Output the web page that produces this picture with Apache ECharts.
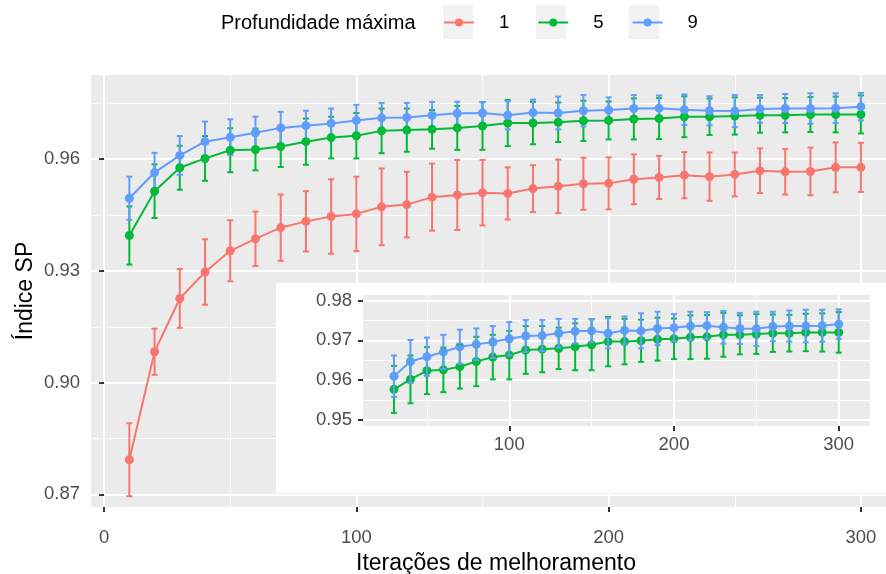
<!DOCTYPE html>
<html>
<head>
<meta charset="utf-8">
<title>Índice SP</title>
<script src="https://cdn.jsdelivr.net/npm/echarts@6/dist/echarts.min.js"></script>
<style>
html, body { margin: 0; padding: 0; background: #ffffff; }
#chart { width: 886px; height: 574px; }
</style>
</head>
<body>
<div id="chart"></div>
<script>
// iterações de melhoramento (eixo x)
const iteracoes = [10, 20, 30, 40, 50, 60, 70, 80, 90, 100,
                   110, 120, 130, 140, 150, 160, 170, 180, 190, 200,
                   210, 220, 230, 240, 250, 260, 270, 280, 290, 300];

// profundidade máxima = 1
const media1 = [0.8793, 0.9083, 0.9226, 0.9297, 0.9354, 0.9386, 0.9416, 0.9433, 0.9446, 0.9453,
                0.9472, 0.9478, 0.9498, 0.9504, 0.9510, 0.9508, 0.9521, 0.9527, 0.9534, 0.9535,
                0.9546, 0.9551, 0.9557, 0.9553, 0.9559, 0.9569, 0.9566, 0.9567, 0.9578, 0.9578];
const erro1 = [0.0098, 0.0062, 0.0079, 0.0088, 0.0082, 0.0073, 0.0089, 0.0081, 0.0100, 0.0100,
               0.0103, 0.0088, 0.0090, 0.0094, 0.0088, 0.0070, 0.0063, 0.0072, 0.0070, 0.0070,
               0.0067, 0.0058, 0.0062, 0.0065, 0.0059, 0.0060, 0.0061, 0.0064, 0.0067, 0.0066];

// profundidade máxima = 5
const media5 = [0.9395, 0.9514, 0.9577, 0.9602, 0.9624, 0.9626, 0.9634, 0.9647, 0.9658, 0.9663,
                0.9676, 0.9678, 0.9680, 0.9684, 0.9689, 0.9697, 0.9697, 0.9699, 0.9703, 0.9704,
                0.9708, 0.9709, 0.9714, 0.9714, 0.9716, 0.9718, 0.9718, 0.9720, 0.9720, 0.9720];
const erro5 = [0.0078, 0.0072, 0.0059, 0.0060, 0.0059, 0.0056, 0.0055, 0.0062, 0.0056, 0.0061,
               0.0060, 0.0058, 0.0052, 0.0059, 0.0064, 0.0062, 0.0057, 0.0053, 0.0054, 0.0051,
               0.0055, 0.0055, 0.0055, 0.0049, 0.0050, 0.0047, 0.0046, 0.0047, 0.0048, 0.0051];

// profundidade máxima = 9
const media9 = [0.9495, 0.9564, 0.9610, 0.9647, 0.9659, 0.9671, 0.9684, 0.9690, 0.9696, 0.9704,
                0.9711, 0.9712, 0.9718, 0.9723, 0.9724, 0.9718, 0.9725, 0.9724, 0.9730, 0.9732,
                0.9736, 0.9737, 0.9733, 0.9730, 0.9729, 0.9735, 0.9736, 0.9736, 0.9737, 0.9741];
const erro9 = [0.0058, 0.0053, 0.0052, 0.0054, 0.0048, 0.0043, 0.0043, 0.0040, 0.0040, 0.0042,
               0.0040, 0.0039, 0.0036, 0.0031, 0.0029, 0.0038, 0.0035, 0.0044, 0.0042, 0.0034,
               0.0036, 0.0034, 0.0041, 0.0039, 0.0043, 0.0037, 0.0039, 0.0041, 0.0040, 0.0037];

// o detalhe começa na iteração 30
const inicioDetalhe = 2;

// marcas dos eixos
const xTicks = [0, 100, 200, 300];
const xMinor = [50, 150, 250];
const yTicks = [0.87, 0.90, 0.93, 0.96];
const yMinor = [0.885, 0.915, 0.945, 0.975];
const xTicksDetalhe = [100, 200, 300];
const yTicksDetalhe = [0.95, 0.96, 0.97, 0.98];
const yMinorDetalhe = [0.955, 0.965, 0.975];

const cores = { '1': '#F8766D', '5': '#00BA38', '9': '#619CFF' };
const fonte = '"Liberation Sans", Arial, sans-serif';

function linha(nome, medias, xi, yi, inicio, z) {
    return {
        name: nome, type: 'line', xAxisIndex: xi, yAxisIndex: yi, z: z,
        data: iteracoes.slice(inicio).map((x, i) => [x, medias[i + inicio]]),
        symbol: 'circle', symbolSize: 9, showSymbol: true,
        lineStyle: { color: cores[nome], width: 2 },
        itemStyle: { color: cores[nome] },
        emphasis: { disabled: true },
        animation: false
    };
}

function barras(nome, medias, erros, xi, yi, inicio, z) {
    const cor = cores[nome];
    return {
        name: nome, type: 'custom', xAxisIndex: xi, yAxisIndex: yi, z: z,
        data: iteracoes.slice(inicio).map((x, i) => [x, medias[i + inicio] - erros[i + inicio], medias[i + inicio] + erros[i + inicio]]),
        encode: { x: 0, y: [1, 2] },
        renderItem: function (params, api) {
            const x = api.value(0);
            const lo = api.coord([x, api.value(1)]);
            const hi = api.coord([x, api.value(2)]);
            const w = 3;
            const st = { stroke: cor, lineWidth: 2 };
            return {
                type: 'group',
                children: [
                    { type: 'line', shape: { x1: lo[0], y1: lo[1], x2: hi[0], y2: hi[1] }, style: st },
                    { type: 'line', shape: { x1: hi[0] - w, y1: hi[1], x2: hi[0] + w, y2: hi[1] }, style: st },
                    { type: 'line', shape: { x1: lo[0] - w, y1: lo[1], x2: lo[0] + w, y2: lo[1] }, style: st }
                ]
            };
        },
        animation: false
    };
}

function eixoMaior(grid, min, max, ticks, decimais, z, margem, extra) {
    return Object.assign({
        type: 'value', gridIndex: grid, min: min, max: max, z: z,
        axisLine: { show: false },
        axisTick: { show: true, length: 5, lineStyle: { color: '#333333', width: 2 }, customValues: ticks },
        axisLabel: {
            customValues: ticks, color: '#4D4D4D', fontSize: 18.5, fontFamily: fonte, margin: margem,
            formatter: v => v.toFixed(decimais)
        },
        splitLine: { show: true, lineStyle: { color: '#ffffff', width: 2 } }
    }, extra || {});
}

function eixoMenor(grid, min, max, ticks, z) {
    return {
        type: 'value', gridIndex: grid, min: min, max: max, z: z,
        axisLine: { show: false },
        axisTick: { show: false, customValues: ticks },
        axisLabel: { show: false, customValues: ticks },
        splitLine: { show: true, lineStyle: { color: '#ffffff', width: 1 } }
    };
}

const chart = echarts.init(document.getElementById('chart'));

const option = {
    backgroundColor: '#ffffff',
    animation: false,
    title: {
        text: 'Profundidade máxima', left: 221, top: 13, padding: 0,
        textStyle: { fontSize: 20, fontWeight: 'normal', color: '#000000', fontFamily: fonte }
    },
    legend: {
        data: ['1', '5', '9'], left: 443, top: 13, padding: 0,
        itemWidth: 30, itemHeight: 10, itemGap: 28, selectedMode: false,
        textStyle: { fontSize: 18.5, color: '#000000', fontFamily: fonte, padding: [0, 0, 0, 20] }
    },
    graphic: [
        { type: 'rect', shape: { x: 443, y: 5, width: 30, height: 34 }, style: { fill: '#F2F2F2' }, z: -1 },
        { type: 'rect', shape: { x: 536, y: 5, width: 30, height: 34 }, style: { fill: '#F2F2F2' }, z: -1 },
        { type: 'rect', shape: { x: 629, y: 5, width: 30, height: 34 }, style: { fill: '#F2F2F2' }, z: -1 },
        // fundo branco do detalhe
        { type: 'rect', shape: { x: 276, y: 283, width: 610, height: 210 }, style: { fill: '#ffffff' }, z: 3 }
    ],
    grid: [
        // o painel principal continua além da borda direita da imagem
        { left: 91, top: 75, width: 810, height: 432, show: true, backgroundColor: '#EBEBEB', borderWidth: 0, outerBoundsMode: 'none', containLabel: false },
        { left: 363, top: 295, width: 507, height: 131, show: true, backgroundColor: '#EBEBEB', borderWidth: 0, z: 4, outerBoundsMode: 'none', containLabel: false }
    ],
    xAxis: [
        eixoMaior(0, -5.2, 315.9, xTicks, 0, 1, 21, {
            name: 'Iterações de melhoramento', nameLocation: 'middle', nameGap: 44,
            nameTextStyle: { fontSize: 23, color: '#000000', fontFamily: fonte }
        }),
        eixoMenor(0, -5.2, 315.9, xMinor, 0),
        eixoMaior(1, 11.2, 319, xTicksDetalhe, 0, 6, 9),
        eixoMenor(1, 11.2, 319, xMinor, 5)
    ],
    yAxis: [
        eixoMaior(0, 0.8666, 0.9826, yTicks, 2, 1, 11, {
            name: 'Índice SP', nameLocation: 'middle', nameGap: 54, nameRotate: 90, nameMoveOverlap: false,
            nameTextStyle: { fontSize: 23, color: '#000000', fontFamily: fonte }
        }),
        eixoMenor(0, 0.8666, 0.9826, yMinor, 0),
        eixoMaior(1, 0.9485, 0.9814, yTicksDetalhe, 2, 6, 11),
        eixoMenor(1, 0.9485, 0.9814, yMinorDetalhe, 5)
    ],
    series: [
        linha('1', media1, 0, 0, 0, 2),
        linha('5', media5, 0, 0, 0, 2),
        linha('9', media9, 0, 0, 0, 2),
        barras('1', media1, erro1, 0, 0, 0, 2),
        barras('5', media5, erro5, 0, 0, 0, 2),
        barras('9', media9, erro9, 0, 0, 0, 2),
        linha('5', media5, 2, 2, inicioDetalhe, 7),
        linha('9', media9, 2, 2, inicioDetalhe, 7),
        barras('5', media5, erro5, 2, 2, inicioDetalhe, 8),
        barras('9', media9, erro9, 2, 2, inicioDetalhe, 8)
    ]
};

chart.setOption(option);
</script>
</body>
</html>
